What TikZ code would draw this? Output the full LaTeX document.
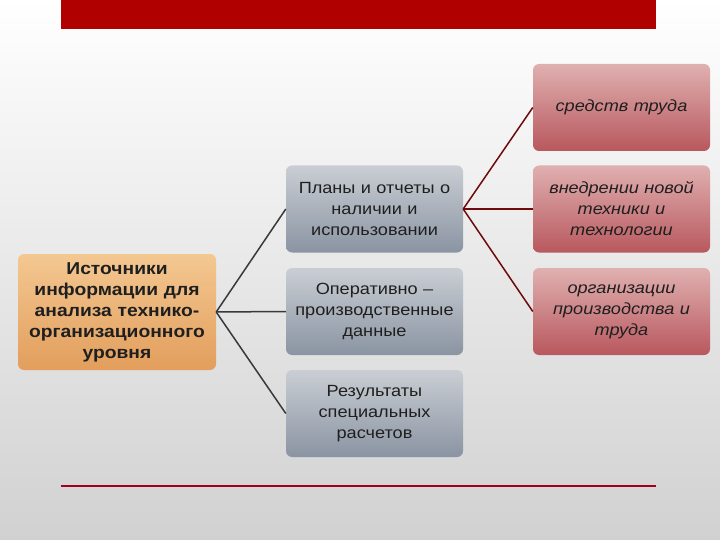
\documentclass[tikz,border=0pt]{standalone}
\usepackage{fontspec}
\setmainfont{Liberation Sans}
\newfontfamily\widefont[FakeStretch=1.12, Ligatures=TeX]{Liberation Sans}
\definecolor{barred}{RGB}{176,0,0}
\definecolor{rulered}{RGB}{160,0,32}
\definecolor{linkred}{RGB}{110,10,10}
\definecolor{linkgray}{RGB}{55,57,60}
\definecolor{srctop}{RGB}{244,200,146}
\definecolor{srcbot}{RGB}{226,158,92}
\definecolor{midtop}{RGB}{202,206,212}
\definecolor{midbot}{RGB}{138,148,162}
\definecolor{restop}{RGB}{224,176,176}
\definecolor{resbot}{RGB}{184,88,94}

\begin{document}
\begin{tikzpicture}[x=1pt, y=-1pt,
  box/.style={rounded corners=6pt, minimum width=177pt, minimum height=87pt,
    text width=168pt, align=center, text=black!88,
    font=\widefont\fontsize{16.2}{21}\selectfont},
  srcbox/.style={box, top color=srctop, bottom color=srcbot,
    minimum width=198pt, minimum height=116pt, text width=190pt,
    font=\widefont\fontsize{17.2}{21}\selectfont\bfseries},
  midbox/.style={box, top color=midtop, bottom color=midbot},
  resbox/.style={box, top color=restop, bottom color=resbot,
    font=\widefont\fontsize{16.2}{21}\selectfont\itshape},
  graylink/.style={linkgray, line width=1.5pt},
  redlink/.style={linkred, line width=1.5pt}]
\useasboundingbox (0,0) rectangle (720,540);
\shade[top color=white, bottom color=black!18] (0,0) rectangle (720,540);
\fill[barred] (61,0) rectangle (656,29);
\draw[rulered, line width=2pt] (61,486) -- (656,486);

% source
\node[srcbox] (src) at (117,312) {Источники\\информации для\\анализа технико-\\организационного\\уровня};

% middle column
\node[midbox] (m1) at (374.5,209) {Планы и отчеты о\\наличии и\\использовании};
\node[midbox] (m2) at (374.5,311.5) {Оперативно –\\производственные\\данные};
\node[midbox] (m3) at (374.5,413.5) {Результаты\\специальных\\расчетов};

% right column
\node[resbox] (r1) at (621.5,107.5) {средств труда};
\node[resbox] (r2) at (621.5,209) {внедрении новой\\техники и\\технологии};
\node[resbox] (r3) at (621.5,311.5) {организации\\производства и\\труда};

\foreach \m in {m1, m2, m3}
    \draw[graylink] (src.east) -- (\m.west);
\foreach \r in {r1, r2, r3}
    \draw[redlink] (m1.east) -- (\r.west);

\end{tikzpicture}
\end{document}
